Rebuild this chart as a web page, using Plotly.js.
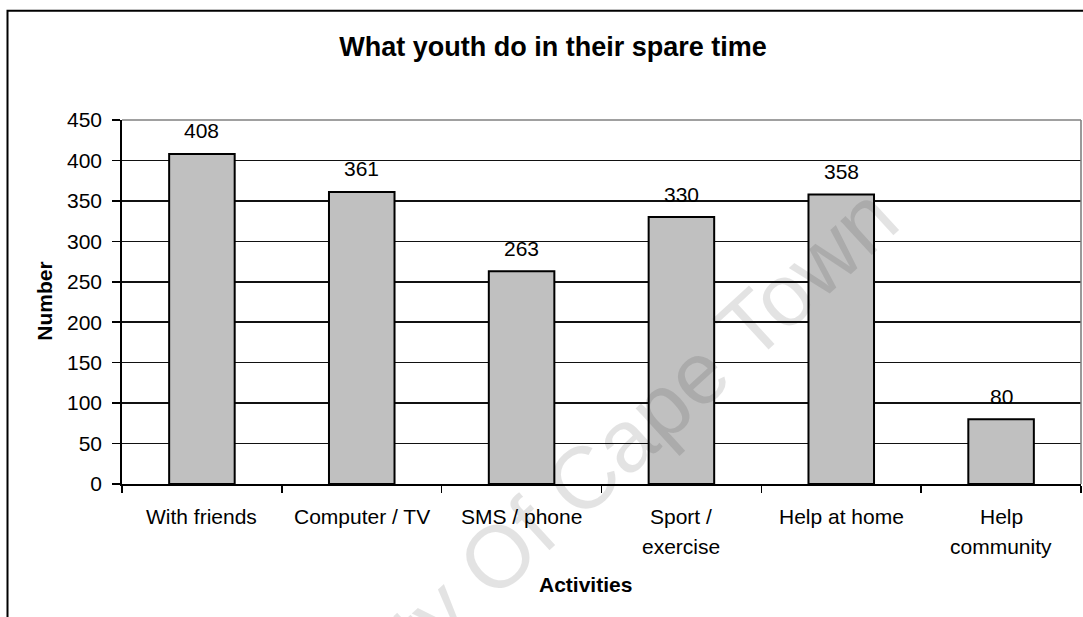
<!DOCTYPE html>
<html>
<head>
<meta charset="utf-8">
<script src="https://cdn.plot.ly/plotly-3.0.1.min.js"></script>
<style>
  html, body { margin: 0; padding: 0; background: #fff; }
  #chart { width: 1083px; height: 617px; }
</style>
</head>
<body>
<div id="chart"></div>
<script>
// Survey results: what youth do in their spare time
const categories = ['With friends', 'Computer / TV', 'SMS / phone', 'Sport / exercise', 'Help at home', 'Help community'];
const counts = [408, 361, 263, 330, 358, 80];
// category labels, split over two lines where they wrap
const tickLine1 = ['With friends', 'Computer / TV', 'SMS / phone', 'Sport /', 'Help at home', 'Help'];
const tickLine2 = ['', '', '', 'exercise', '', 'community'];
const yTicks = [0, 50, 100, 150, 200, 250, 300, 350, 400, 450];

const W = 1083, H = 617;
const M = { l: 122, r: 2, t: 120, b: 132.5 };
const plotW = W - M.l - M.r;
const plotH = H - M.t - M.b;
// pixel -> paper helpers for frame / text placement
const px = x => (x - M.l) / plotW;
const py = y => (H - M.b - y) / plotH;

const FONT = 'Arial, "Liberation Sans", sans-serif';
const TXT = 21;

const annotations = [];

// value labels above each bar
categories.forEach((c, i) => {
  annotations.push({
    x: c, y: counts[i], xref: 'x', yref: 'y',
    text: String(counts[i]), showarrow: false,
    yanchor: 'middle', yshift: 23,
    font: { family: FONT, size: TXT, color: '#000' }
  });
});

// category labels under the axis
categories.forEach((c, i) => {
  annotations.push({
    x: c, y: 0, xref: 'x', yref: 'paper',
    text: tickLine1[i], showarrow: false,
    yanchor: 'middle', yshift: -32.5,
    font: { family: FONT, size: TXT, color: '#000' }
  });
  if (tickLine2[i]) {
    annotations.push({
      x: c, y: 0, xref: 'x', yref: 'paper',
      text: tickLine2[i], showarrow: false,
      yanchor: 'middle', yshift: -62.5,
      font: { family: FONT, size: TXT, color: '#000' }
    });
  }
});

// axis titles
annotations.push({
  x: px(45), y: py(302), xref: 'paper', yref: 'paper',
  text: '<b>Number</b>', showarrow: false, textangle: -90,
  xanchor: 'center', yanchor: 'middle',
  font: { family: FONT, size: TXT, color: '#000' }
});
annotations.push({
  x: px(585), y: py(585), xref: 'paper', yref: 'paper',
  text: '<b>Activities</b>', showarrow: false,
  xanchor: 'center', yanchor: 'middle',
  font: { family: FONT, size: TXT, color: '#000' }
});

// diagonal watermark
annotations.push({
  x: px(526), y: py(531), xref: 'paper', yref: 'paper',
  text: 'University Of Cape Town', showarrow: false, textangle: -42.5,
  xanchor: 'center', yanchor: 'middle',
  font: { family: FONT, size: 88, color: 'rgba(0,0,0,0.11)' }
});

const data = [{
  type: 'bar',
  x: categories,
  y: counts,
  marker: { color: '#c0c0c0', line: { color: '#000', width: 2 } },
  hoverinfo: 'x+y'
}];

const layout = {
  width: W, height: H,
  margin: M,
  paper_bgcolor: '#fff',
  plot_bgcolor: '#fff',
  showlegend: false,
  bargap: 0.59,
  title: {
    text: '<b>What youth do in their spare time</b>',
    x: 553 / W, xanchor: 'center',
    y: 1 - 47 / H, yanchor: 'middle',
    font: { family: FONT, size: 27, color: '#000' }
  },
  xaxis: {
    type: 'category',
    showticklabels: false,
    ticks: 'outside', ticklen: 7, tickwidth: 1.5, tickcolor: '#000',
    tickson: 'boundaries',
    showline: true, linecolor: '#000', linewidth: 2,
    showgrid: false, zeroline: false,
    fixedrange: true
  },
  yaxis: {
    range: [0, 450],
    tickvals: yTicks,
    ticks: 'outside', ticklen: 8, tickwidth: 1.5, tickcolor: '#000',
    ticklabelstandoff: 6,
    showline: true, linecolor: '#000', linewidth: 1.8,
    showgrid: true, gridcolor: '#111', gridwidth: 1.6,
    zeroline: false,
    tickfont: { family: FONT, size: TXT, color: '#000' },
    fixedrange: true
  },
  shapes: [
    // plot area border (top and right) in grey
    { type: 'line', xref: 'paper', yref: 'paper', x0: 0, x1: 1, y0: 1, y1: 1,
      line: { color: '#808080', width: 1.6 }, layer: 'above' },
    { type: 'line', xref: 'paper', yref: 'paper', x0: 1, x1: 1, y0: 0, y1: 1,
      line: { color: '#808080', width: 1.6 }, layer: 'above' },
    // outer chart frame
    { type: 'rect', xref: 'paper', yref: 'paper',
      x0: px(7.5), x1: px(1100), y0: py(640), y1: py(10.5),
      line: { color: '#000', width: 2 }, layer: 'below' }
  ],
  annotations: annotations
};

Plotly.newPlot('chart', data, layout, { displayModeBar: false, staticPlot: true });
</script>
</body>
</html>
